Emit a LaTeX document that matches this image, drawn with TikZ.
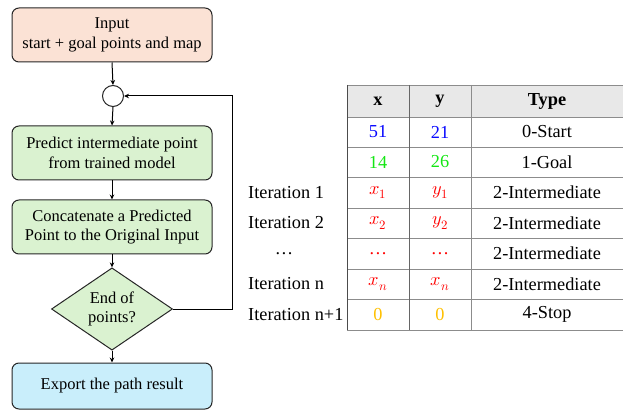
\documentclass[tikz,border=0pt]{standalone}
\usepackage{fontspec}
\usepackage{unicode-math}
\setmainfont{Liberation Serif}
\usetikzlibrary{shapes.geometric, arrows.meta, positioning}
\newcommand{\flow}[2]
{
	\draw[line width=1pt, -{Stealth[length=5pt, width=4.5pt]}] (#1.south) -- (#2.north)
}
\definecolor{inputfill}{RGB}{251,226,213}
\definecolor{stepfill}{RGB}{218,242,208}
\definecolor{exportfill}{RGB}{201,238,251}
\definecolor{headfill}{RGB}{232,232,232}
\definecolor{ptblue}{RGB}{10,10,255}
\definecolor{ptgreen}{RGB}{20,230,20}
\definecolor{ptred}{RGB}{255,0,0}
\definecolor{ptgold}{RGB}{255,192,0}

\begin{document}
\begin{tikzpicture}[x=1pt, y=-1pt,
	procbox/.style={draw=black!85, line width=1pt, rounded corners=7pt,
		minimum width=200pt, minimum height=54pt, align=center,
		font=\fontsize{16.5}{19.5}\selectfont},
	decbox/.style={draw=black!85, line width=1pt, diamond, fill=stepfill,
		minimum width=121pt, minimum height=70pt, inner sep=0pt, align=center,
		font=\fontsize{16.5}{19.5}\selectfont},
	cell/.style={font=\fontsize{18.3}{21}\selectfont, inner sep=0pt},
	grid/.style={draw=black!45, line width=0.7pt}]

	\useasboundingbox (0,0) rectangle (623,419);

	\node[procbox, fill=inputfill] at (112, 35) (in){Input\\start + goal points and map};
	\node[draw=black!85, line width=1pt, circle, minimum size=21pt, inner sep=0pt] at (113, 96) (join){};
	\node[procbox, fill=stepfill] at (112, 153) (pred){Predict intermediate point\\from trained model};
	\node[procbox, fill=stepfill] at (112, 227) (conc){Concatenate a Predicted\\Point to the Original Input};
	\node[decbox] at (112, 309) (stop){End of\\points?};
	\node[procbox, fill=exportfill, minimum height=46pt] at (112, 386) (out){Export the path result};
	\flow{in}{join};
	\flow{join}{pred};
	\flow{pred}{conc};
	\flow{conc}{stop};
	\flow{stop}{out};
	\draw[line width=1pt, -{Stealth[length=5pt, width=4.5pt]}] (stop.east) -- ++(59, 0) |- (join.east);

	\fill[headfill] (347, 85) rectangle (623, 117);
	\foreach \yy in {85, 117, 147, 177, 208, 238, 269, 299, 330}
		\draw[grid] (347, \yy) -- (623, \yy);
	\draw[draw=black!70, line width=0.8pt] (347, 85) -- (347, 330);
	\draw[draw=black!60, line width=0.8pt] (409, 85) -- (409, 330);
	\draw[draw=black!45, line width=0.8pt] (471, 85) -- (471, 330);

	\node[cell, font=\fontsize{18.3}{21}\selectfont\bfseries] at (378, 101) (hx){x};
	\node[cell, font=\fontsize{18.3}{21}\selectfont\bfseries] at (440, 101) (hy){y};
	\node[cell, font=\fontsize{18.3}{21}\selectfont\bfseries] at (547, 101) (ht){Type};

	\node[cell, text=ptblue] at (378, 132) (x0){51};
	\node[cell, text=ptblue] at (440, 132) (y0){21};
	\node[cell] at (547, 132) (t0){0-Start};

	\node[cell, text=ptgreen] at (378, 162) (x1){14};
	\node[cell, text=ptgreen] at (440, 162) (y1){26};
	\node[cell] at (547, 162) (t1){1-Goal};

	\node[cell, anchor=west] at (248, 192.5) (r2){Iteration 1};
	\node[cell, text=ptred] at (378, 192.5) (x2){$x_1$};
	\node[cell, text=ptred] at (440, 192.5) (y2){$y_1$};
	\node[cell] at (547, 192.5) (t2){2-Intermediate};

	\node[cell, anchor=west] at (248, 223) (r3){Iteration 2};
	\node[cell, text=ptred] at (378, 223) (x3){$x_2$};
	\node[cell, text=ptred] at (440, 223) (y3){$y_2$};
	\node[cell] at (547, 223) (t3){2-Intermediate};

	\node[cell] at (284, 253.5) (r4){…};
	\node[cell, text=ptred] at (378, 253.5) (x4){…};
	\node[cell, text=ptred] at (440, 253.5) (y4){…};
	\node[cell] at (547, 253.5) (t4){2-Intermediate};

	\node[cell, anchor=west] at (248, 284) (r5){Iteration n};
	\node[cell, text=ptred] at (378, 284) (x5){$x_n$};
	\node[cell, text=ptred] at (440, 284) (y5){$x_n$};
	\node[cell] at (547, 284) (t5){2-Intermediate};

	\node[cell, anchor=west] at (248, 314.5) (r6){Iteration n+1};
	\node[cell, text=ptgold] at (378, 314.5) (x6){0};
	\node[cell, text=ptgold] at (440, 314.5) (y6){0};
	\node[cell] at (547, 314.5) (t6){4-Stop};
\end{tikzpicture}
\end{document}
